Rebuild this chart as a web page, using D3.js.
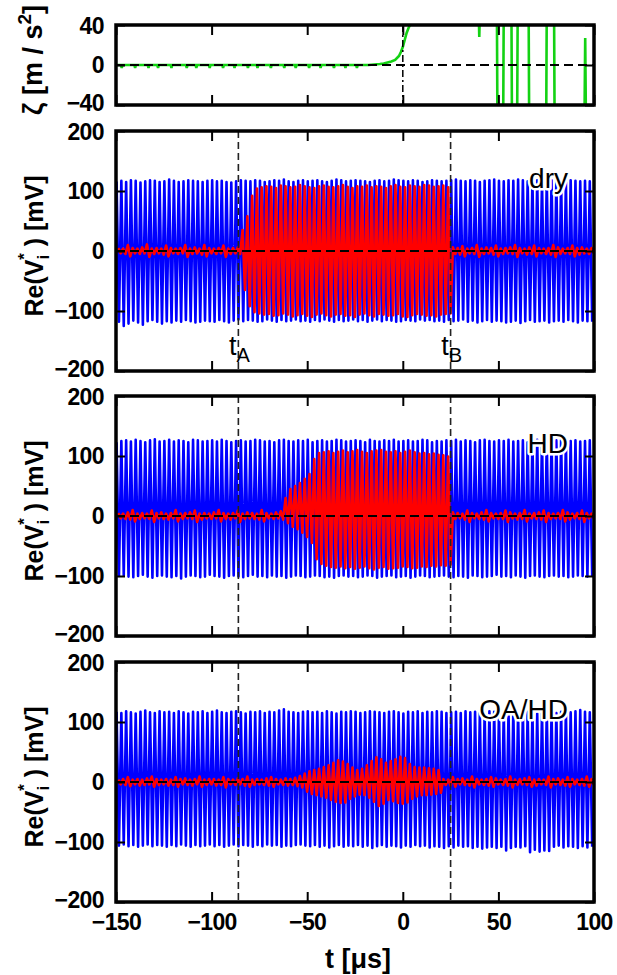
<!DOCTYPE html>
<html><head><meta charset="utf-8">
<script src="https://cdn.jsdelivr.net/npm/d3@7"></script>
<style>
body{margin:0;background:#fff;}
svg{display:block;}
text{font-family:"Liberation Sans",Arial,sans-serif;fill:#000;}
</style></head><body>
<svg id="c" width="617" height="975"></svg>
<script>
// ---------------- DATA ----------------
const xDomain = [-150, 100];
const xTicks = [-150, -100, -50, 0, 50, 100];
const zetaTicks = [-40, 0, 40];
const vTicks = [-200, -100, 0, 100, 200];
const tA = -86, tB = 25;
const cycleStart = -149.7;   // time of first maximum [μs]
const cyclePeriod = 2.5;     // time between successive maxima [μs]
const panelLabels = ["dry", "HD", "OA/HD"];

// acceleration ζ [m/s²] (values beyond ±40 lie off the chart)
const zetaT = [-150,
-147.4,-147,-146.6, -140.4,-140,-139.6, -133.4,-133,-132.6, -128.4,-128,-127.6,
-121.4,-121,-120.6, -113.4,-113,-112.6, -108.4,-108,-107.6, -101.4,-101,-100.6,
-94.4,-94,-93.6, -88.4,-88,-87.6, -81.4,-81,-80.6, -76.4,-76,-75.6,
-69.4,-69,-68.6, -62.4,-62,-61.6, -56.4,-56,-55.6, -49.4,-49,-48.6,
-43.4,-43,-42.6, -36.4,-36,-35.6, -30.4,-30,-29.6, -24.4,-24,-23.6,
-18,-15,-12,-10,-8,-6,-4,-2,-1,0,1,2,3,4,5,
39.6,40,40.4,49.2,49.5,52.5,52.8,56.8,57.1,59.8,60.1,65.8,66.1,75.0,75.3,79.1,79.4,95.0,95.4,95.8];
const zetaV = [0,
0,-3,0, 0,-3,0, 0,-3,0, 0,-3,0,
0,-3,0, 0,-3,0, 0,-3,0, 0,-3,0,
0,-3,0, 0,-3,0, 0,-3,0, 0,-3,0,
0,-3,0, 0,-3,0, 0,-3,0, 0,-3,0,
0,-3,0, 0,-3,0, 0,-3,0, 0,-3,0,
0,0.5,1,1.5,2.5,3.5,5,9,13,18,25,32,37,41,60,
60,28,60,60,-60,-60,60,60,-60,-60,60,60,-60,-60,60,60,-60,-60,27,-60];

// Re(V_i*) [mV]: per-cycle maxima (Hi) and minima (Lo)
const blueHiDry = [116,117,115,118,117,114,116,118,117,115,
116,119,117,115,116,118,117,116,115,117,
118,116,117,115,114,116,118,117,116,118,
117,115,116,118,117,119,116,115,117,118,
116,117,118,116,115,117,119,118,116,117,
118,117,116,115,117,118,116,117,119,118,
117,116,118,117,115,116,118,117,116,117,
118,119,117,116,118,117,115,117,118,119,
117,116,118,117,119,118,116,117,118,116,
117,118,116,117,115,118,117,116,117,116];
const blueLoDry = [-118,-125,-121,-116,-119,-123,-117,-115,-118,-121,
-117,-119,-116,-118,-115,-117,-119,-118,-116,-117,
-118,-115,-117,-119,-116,-114,-117,-115,-116,-118,
-117,-114,-116,-118,-115,-117,-116,-114,-117,-116,
-118,-115,-117,-114,-116,-118,-115,-117,-116,-114,
-117,-115,-118,-116,-114,-117,-115,-116,-118,-117,
-115,-116,-117,-114,-116,-115,-117,-116,-118,-115,
-117,-116,-114,-118,-116,-119,-117,-115,-118,-116,
-117,-119,-118,-116,-120,-117,-115,-118,-117,-116,
-119,-117,-116,-118,-115,-117,-119,-116,-117,-118];
const redHiDry = [5,4,10,5,4,6,11,4,5,4,9,5,4,5,10,4,6,4,10,5,4,5,9,4,5,6,
35,58,92,104,106,108,107,105,109,108,106,107,110,108,106,105,108,109,107,106,
108,110,107,105,108,107,109,106,108,107,105,108,110,107,106,109,108,107,110,109,107,108,109,106,
6,5,8,4,5,10,4,6,5,9,4,5,6,10,5,4,6,9,5,4,5,10,6,4,5,9,5,6,4,5];
const redLoDry = [-4,-5,-9,-4,-5,-4,-10,-5,-4,-6,-9,-4,-5,-4,-10,-5,-4,-6,-9,-4,-5,-4,-10,-5,-4,-5,
-65,-92,-102,-104,-106,-105,-108,-107,-104,-106,-109,-107,-105,-108,-110,-106,-104,-107,-109,-106,
-105,-108,-107,-110,-106,-104,-107,-109,-105,-106,-108,-107,-105,-109,-110,-107,-105,-106,-108,-107,-109,-106,-105,-104,
-5,-6,-9,-4,-5,-10,-5,-4,-6,-9,-5,-4,-5,-10,-4,-6,-5,-9,-4,-5,-6,-10,-5,-4,-5,-9,-6,-4,-5,-4];

const blueHiHD = [123,125,126,124,127,125,123,126,128,124,
125,127,124,126,125,123,127,126,124,125,
126,124,127,125,123,125,126,124,125,127,
126,124,125,123,126,127,125,124,126,125,
127,123,125,126,124,125,127,126,124,125,
126,125,123,127,125,124,126,125,127,124,
125,126,124,125,127,126,123,125,124,126,
125,127,124,126,125,123,126,127,125,124,
126,125,127,124,125,126,123,125,127,126,
124,125,126,127,124,125,126,124,125,126];
const blueLoHD = [-100,-99,-101,-102,-100,-98,-101,-103,-100,-99,
-101,-102,-100,-104,-101,-99,-100,-102,-101,-98,
-100,-101,-103,-100,-99,-101,-102,-100,-98,-101,
-100,-102,-99,-101,-100,-103,-101,-99,-100,-102,
-101,-99,-100,-102,-101,-103,-100,-99,-101,-100,
-102,-101,-99,-100,-103,-101,-100,-99,-102,-101,
-100,-103,-101,-99,-100,-102,-101,-100,-99,-101,
-102,-100,-101,-103,-99,-100,-102,-101,-100,-98,
-101,-100,-102,-99,-101,-103,-100,-99,-101,-102,
-100,-99,-101,-100,-102,-101,-99,-100,-101,-100];
const redHiHD = [5,4,6,10,4,5,4,9,5,6,4,5,10,4,5,6,9,4,5,4,6,10,5,4,5,9,4,6,5,4,10,5,4,6,8,
30,45,50,55,62,70,95,105,
106,108,105,107,109,106,108,110,107,105,108,109,110,107,106,108,105,107,109,106,104,105,103,104,102,101,99,
6,5,4,9,5,4,6,10,5,4,5,9,6,4,5,10,4,5,6,9,5,4,5,10,6,4,5,9,5,4];
const redLoHD = [-4,-5,-6,-9,-5,-4,-5,-10,-4,-5,-6,-4,-9,-5,-4,-5,-10,-6,-4,-5,-4,-9,-5,-6,-4,-10,-5,-4,-5,-6,-9,-4,-5,-4,-6,
-12,-18,-22,-28,-35,-45,-72,-80,
-83,-85,-86,-84,-87,-85,-88,-86,-84,-87,-89,-86,-85,-88,-87,-86,-84,-85,-87,-86,-84,-85,-83,-84,-82,-83,-81,
-5,-4,-6,-10,-4,-5,-6,-9,-4,-5,-5,-10,-4,-6,-5,-9,-4,-5,-6,-10,-5,-4,-5,-9,-6,-4,-5,-10,-4,-5];

const blueHiOA = [117,115,118,116,114,117,119,116,115,118,
116,117,115,118,116,114,117,116,118,115,
117,119,116,115,117,118,116,114,117,116,
118,115,117,116,119,121,117,116,115,117,
118,116,117,115,118,116,114,117,116,118,
117,115,116,118,117,116,115,117,118,116,
114,117,116,118,115,117,116,118,117,115,
116,117,115,118,116,117,115,116,118,117,
115,116,117,118,116,115,117,116,114,117,
118,116,115,117,119,116,118,120,117,116];
const blueLoOA = [-106,-104,-107,-105,-108,-106,-104,-107,-105,-106,
-108,-105,-107,-104,-106,-108,-105,-107,-106,-104,
-107,-105,-108,-106,-104,-107,-105,-106,-108,-105,
-107,-104,-106,-105,-108,-106,-107,-105,-104,-106,
-107,-105,-108,-106,-109,-107,-105,-108,-106,-107,
-105,-108,-106,-110,-107,-105,-108,-106,-107,-109,
-106,-108,-105,-107,-106,-109,-107,-108,-110,-107,
-109,-106,-108,-107,-110,-108,-111,-109,-108,-110,
-108,-114,-110,-108,-109,-107,-117,-113,-116,-114,
-115,-108,-106,-109,-107,-108,-110,-107,-109,-108];
const redHiOA = [4,5,8,4,5,4,6,9,5,4,5,4,8,5,6,4,5,9,4,5,5,4,8,5,4,6,5,9,4,5,4,6,8,5,4,6,
5,7,10,14,18,20,22,25,28,32,36,34,30,24,20,22,28,35,41,38,32,35,38,42,40,30,25,24,24,23,22,20,
5,4,8,5,6,4,9,5,4,5,8,6,4,5,9,4,5,6,8,4,5,4,9,5,6,4,8,5,4,5,9,5];
const redLoOA = [-4,-5,-7,-4,-6,-5,-4,-8,-5,-4,-6,-5,-8,-4,-5,-6,-4,-8,-5,-4,-6,-5,-9,-4,-5,-4,-6,-8,-5,-4,-5,-6,-8,-4,-5,-6,
-5,-7,-9,-16,-20,-22,-24,-26,-30,-33,-35,-34,-28,-24,-21,-22,-26,-33,-40,-36,-30,-32,-35,-36,-34,-28,-24,-22,-22,-21,-20,-18,
-5,-6,-8,-4,-5,-6,-9,-4,-5,-6,-8,-4,-5,-6,-9,-5,-4,-5,-8,-6,-4,-5,-9,-4,-5,-6,-8,-4,-5,-6,-8,-5];

const blueHi = [blueHiDry, blueHiHD, blueHiOA];
const blueLo = [blueLoDry, blueLoHD, blueLoOA];
const redHi = [redHiDry, redHiHD, redHiOA];
const redLo = [redLoDry, redLoHD, redLoOA];

// ---------------- LAYOUT ----------------
const L = 116, R = 594;
const topPanel = {y0: 25, y1: 105};
const sigPanels = [{y0: 131, y1: 371}, {y0: 396, y1: 636}, {y0: 662, y1: 902}];
const BLUE = "#0000ff", RED = "#ff0000", GREEN = "#14d214";

const svg = d3.select("#c");
const x = d3.scaleLinear().domain(xDomain).range([L, R]);

function toPoints(hi, lo, phase) {
  const pts = [];
  for (let i = 0; i < hi.length; i++) {
    const t = cycleStart + phase + i * cyclePeriod;
    pts.push({t: t, v: hi[i]});
    pts.push({t: t + cyclePeriod / 2, v: lo[i]});
  }
  return pts;
}

function drawAxes(g, y, yTickVals, p, showX) {
  const tickStyle = sel => {
    sel.select(".domain").remove();
    sel.selectAll(".tick line").attr("stroke", "#000").attr("stroke-width", 2);
    sel.selectAll(".tick text").attr("fill", "#000")
      .style("font-family", '"Liberation Sans",Arial,sans-serif')
      .style("font-weight", "bold").style("font-size", "23px").style("letter-spacing", "-0.6px");
  };
  g.append("g").attr("transform", `translate(0,${p.y0})`)
    .call(d3.axisTop(x).tickValues(xTicks).tickSize(-10).tickFormat("")).call(tickStyle);
  g.append("g").attr("transform", `translate(0,${p.y1})`)
    .call(d3.axisBottom(x).tickValues(xTicks).tickSize(-10).tickPadding(12)
      .tickFormat(showX ? d3.format("d") : "")).call(tickStyle);
  const [d0, d1] = y.domain();
  g.append("g").attr("transform", `translate(${L},0)`)
    .call(d3.axisLeft(y).tickValues(yTickVals).tickSize(-9).tickPadding(12).tickFormat(d3.format("d")))
    .call(tickStyle)
    .call(sel => sel.selectAll(".tick text")
      .attr("y", d => d === d0 ? -1.5 : d === d1 ? 1.5 : 0));
  g.append("g").attr("transform", `translate(${R},0)`)
    .call(d3.axisRight(y).tickValues(yTickVals).tickSize(-9).tickFormat("")).call(tickStyle);
  g.append("rect").attr("x", L).attr("y", p.y0).attr("width", R - L).attr("height", p.y1 - p.y0)
    .attr("fill", "none").attr("stroke", "#000").attr("stroke-width", 3.5);
}

const defs = svg.append("defs");

// ---------- top panel: ζ ----------
{
  const p = topPanel;
  const y = d3.scaleLinear().domain([-40, 40]).range([p.y1, p.y0]);
  defs.append("clipPath").attr("id", "clip0").append("rect")
    .attr("x", L).attr("y", p.y0).attr("width", R - L).attr("height", p.y1 - p.y0);
  const g = svg.append("g");
  const data = zetaT.map((t, i) => ({t: t, v: zetaV[i]}));
  const gc = g.append("g").attr("clip-path", "url(#clip0)");
  gc.append("path").datum(data)
    .attr("d", d3.line().x(d => x(d.t)).y(d => y(d.v)))
    .attr("fill", "none").attr("stroke", GREEN).attr("stroke-width", 2.6);
  gc.append("line").attr("x1", L).attr("x2", R).attr("y1", y(0)).attr("y2", y(0))
    .attr("stroke", "#000").attr("stroke-width", 2).attr("stroke-dasharray", "9,5");
  gc.append("line").attr("x1", x(0)).attr("x2", x(0)).attr("y1", p.y0).attr("y2", p.y1)
    .attr("stroke", "#000").attr("stroke-width", 1.5).attr("stroke-dasharray", "7,3,2,3");
  drawAxes(g, y, zetaTicks, p, false);
  const lab = svg.append("text").attr("transform", `translate(42,${(p.y0 + p.y1) / 2 - 5}) rotate(-90)`)
    .attr("text-anchor", "middle").style("font-weight", "bold").style("font-size", "27px");
  lab.append("tspan").text("ζ [m / s");
  lab.append("tspan").attr("dy", -11).style("font-size", "19px").text("2");
  lab.append("tspan").attr("dy", 11).text("]");
}

// ---------- signal panels ----------
sigPanels.forEach((p, k) => {
  const y = d3.scaleLinear().domain([-200, 200]).range([p.y1, p.y0]);
  defs.append("clipPath").attr("id", "clip" + (k + 1)).append("rect")
    .attr("x", L).attr("y", p.y0).attr("width", R - L).attr("height", p.y1 - p.y0);
  const g = svg.append("g");
  const gc = g.append("g").attr("clip-path", `url(#clip${k + 1})`);
  const line = d3.line().x(d => x(d.t)).y(d => y(d.v)).curve(d3.curveLinear);
  gc.append("path").datum(toPoints(blueHi[k], blueLo[k], 0))
    .attr("d", line).attr("fill", "none").attr("stroke", BLUE).attr("stroke-width", 2.6)
    .attr("stroke-linejoin", "round");
  gc.append("path").datum(toPoints(redHi[k], redLo[k], 0.9))
    .attr("d", line).attr("fill", "none").attr("stroke", RED).attr("stroke-width", 2.6)
    .attr("stroke-linejoin", "round");
  gc.append("line").attr("x1", L).attr("x2", R).attr("y1", y(0)).attr("y2", y(0))
    .attr("stroke", "#000").attr("stroke-width", 2).attr("stroke-dasharray", "9,5");
  [tA, tB].forEach(t => {
    gc.append("line").attr("x1", x(t)).attr("x2", x(t)).attr("y1", p.y0).attr("y2", p.y1)
      .attr("stroke", "#222").attr("stroke-width", 1.6).attr("stroke-dasharray", "7,4");
  });
  drawAxes(g, y, vTicks, p, k === sigPanels.length - 1);

  // panel label with white halo
  svg.append("text").attr("x", 568).attr("y", p.y0 + 57).attr("text-anchor", "end")
    .style("font-size", "28px").style("paint-order", "stroke")
    .attr("stroke", "#fff").attr("stroke-width", 5).attr("stroke-linejoin", "round")
    .text(panelLabels[k]);

  // y-axis title
  const lab = svg.append("text").attr("transform", `translate(43,${(p.y0 + p.y1) / 2 - 5}) rotate(-90)`)
    .attr("text-anchor", "middle").style("font-weight", "bold").style("font-size", "25px");
  lab.append("tspan").text("Re(V");
  lab.append("tspan").attr("dy", 6).style("font-size", "17px").text("i");
  lab.append("tspan").attr("dx", -5).attr("dy", -19).style("font-size", "17px").text("*");
  lab.append("tspan").attr("dy", 13).text(" ) [mV]");

  if (k === 0) {
    [["A", tA], ["B", tB]].forEach(([s, t]) => {
      const tl = svg.append("text").attr("x", x(t) + 1).attr("y", p.y1 - 16)
        .attr("text-anchor", "middle").style("font-size", "27px");
      tl.append("tspan").text("t");
      tl.append("tspan").attr("dy", 7).style("font-size", "20px").text(s);
    });
  }
});

// x-axis title
svg.append("text").attr("x", 358).attr("y", 968).attr("text-anchor", "middle")
  .style("font-weight", "bold").style("font-size", "27px").text("t [μs]");
</script>
</body></html>
